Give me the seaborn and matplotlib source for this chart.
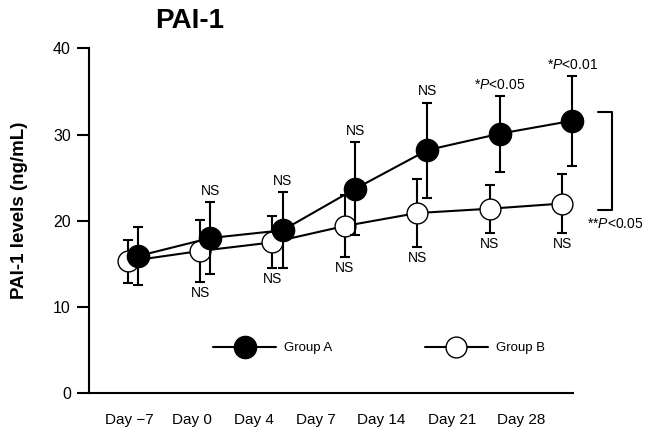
import matplotlib
matplotlib.use("Agg")
import matplotlib.pyplot as plt
import seaborn as sns
import pandas as pd
import numpy as np

# ---- data ----
days = ["Day \u22127", "Day 0", "Day 4", "Day 7", "Day 14", "Day 21", "Day 28"]
group_a_mean = [15.9, 18.0, 18.9, 23.7, 28.2, 30.1, 31.6]
group_a_err = [3.4, 4.2, 4.4, 5.4, 5.5, 4.4, 5.2]
group_b_mean = [15.3, 16.5, 17.5, 19.4, 20.9, 21.4, 22.0]
group_b_err = [2.5, 3.6, 3.0, 3.6, 3.9, 2.8, 3.4]
group_a_notes = ["", "NS", "NS", "NS", "NS", "*$\\it{P}$<0.05", "*$\\it{P}$<0.01"]
group_b_notes = ["", "NS", "NS", "NS", "NS", "NS", "NS"]
bracket_note = "**$\\it{P}$<0.05"
bracket_range = [21.3, 32.6]
yticks = [0, 10, 20, 30, 40]

# ---- layout constants ----
label_pos = [-0.05, 0.82, 1.67, 2.53, 3.43, 4.41, 5.37]
offset_a, offset_b = 0.07, -0.07

sns.set_style("ticks")
plt.rcParams["font.family"] = ["Liberation Sans", "DejaVu Sans"]
plt.rcParams["mathtext.fontset"] = "custom"
plt.rcParams["mathtext.it"] = "Liberation Sans:italic"
plt.rcParams["mathtext.rm"] = "Liberation Sans"
for k in ["text.color", "axes.labelcolor", "xtick.color", "ytick.color", "axes.edgecolor"]:
    plt.rcParams[k] = "black"

fig = plt.figure(figsize=(6.56, 4.37), dpi=100)
ax = fig.add_axes([0.1357, 0.100, 0.7378, 0.7895])

idx = np.arange(len(days))
df_a = pd.DataFrame({"x": idx + offset_a, "y": group_a_mean})
df_b = pd.DataFrame({"x": idx + offset_b, "y": group_b_mean})

# error bars (under markers)
eb_b = ax.errorbar(df_b["x"], df_b["y"], yerr=group_b_err, fmt="none", ecolor="black",
                   elinewidth=1.5, capsize=3.6, capthick=1.5, zorder=2)
eb_a = ax.errorbar(df_a["x"], df_a["y"], yerr=group_a_err, fmt="none", ecolor="black",
                   elinewidth=1.5, capsize=3.6, capthick=1.5, zorder=4)
for eb in (eb_a, eb_b):
    for part in eb.get_children():
        part.set_clip_on(False)

sns.lineplot(data=df_b, x="x", y="y", ax=ax, color="black", lw=1.5,
             marker="o", markersize=15, markerfacecolor="white",
             markeredgecolor="black", markeredgewidth=1.0, label="Group B",
             zorder=3, errorbar=None, clip_on=False)
sns.lineplot(data=df_a, x="x", y="y", ax=ax, color="black", lw=1.5,
             marker="o", markersize=16, markerfacecolor="black",
             markeredgecolor="black", markeredgewidth=1.0, label="Group A",
             zorder=5, errorbar=None, clip_on=False)

# annotations
for i in range(len(days)):
    if group_a_notes[i]:
        ax.annotate(group_a_notes[i], (idx[i] + offset_a, group_a_mean[i] + group_a_err[i]),
                    xytext=(0, 3), textcoords="offset points", ha="center", va="bottom",
                    fontsize=10, annotation_clip=False)
    if group_b_notes[i]:
        ax.annotate(group_b_notes[i], (idx[i] + offset_b, group_b_mean[i] - group_b_err[i]),
                    xytext=(0, -3), textcoords="offset points", ha="center", va="top",
                    fontsize=10, annotation_clip=False)

# bracket
bx = 6.62
ax.plot([bx - 0.19, bx, bx, bx - 0.19],
        [bracket_range[1], bracket_range[1], bracket_range[0], bracket_range[0]],
        color="black", lw=1.5, clip_on=False)
ax.annotate(bracket_note, (bx, bracket_range[0]), xytext=(2, -5), textcoords="offset points",
            ha="center", va="top", fontsize=10, annotation_clip=False)

ax.set_xlim(-0.603, 6.08)
ax.set_ylim(0, 40)
ax.set_yticks(yticks)
ax.set_yticklabels([str(v) for v in yticks], fontsize=11.5)
ax.set_xticks(label_pos)
ax.set_xticklabels(days, fontsize=11)
ax.tick_params(axis="x", length=0, pad=14)
ax.tick_params(axis="y", length=9, width=1.5, pad=4, direction="out")
for s in ["left", "bottom"]:
    ax.spines[s].set_linewidth(1.5)
    ax.spines[s].set_color("black")
sns.despine(ax=ax)

ax.set_xlabel("")
ax.set_ylabel("PAI-1 levels (ng/mL)", fontsize=13.5, fontweight="bold")
ax.yaxis.set_label_coords(-0.126, 0.531)

handles, labels = ax.get_legend_handles_labels()
order = [labels.index("Group A"), labels.index("Group B")]
ax.legend([handles[k] for k in order], [labels[k] for k in order], ncol=2,
          loc="center left", bbox_to_anchor=(0.256, 0.131), frameon=False,
          fontsize=9.5, handlelength=4.8, handletextpad=0.6, columnspacing=7.0,
          borderaxespad=0, borderpad=0)

fig.text(0.236, 0.935, "PAI-1", fontsize=20, fontweight="bold")

fig.savefig("out.png", dpi=100)
